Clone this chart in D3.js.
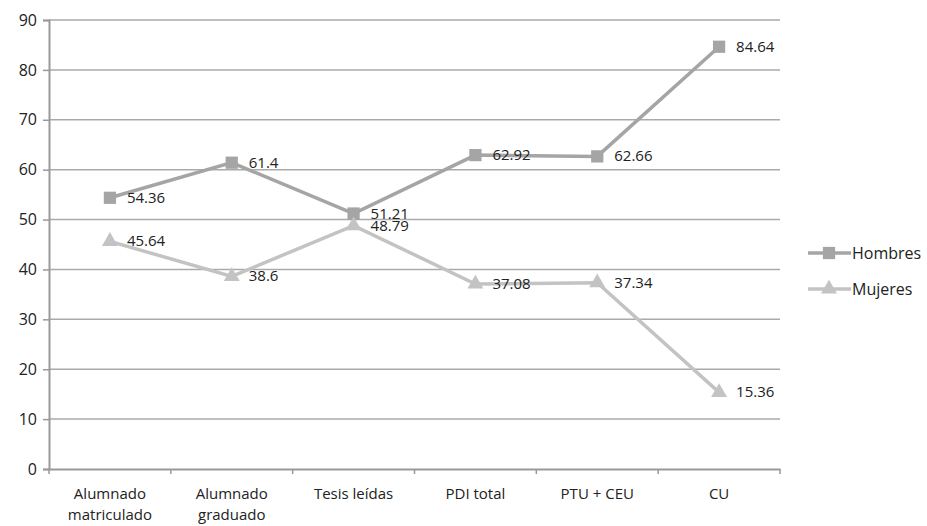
<!DOCTYPE html>
<html>
<head>
<meta charset="utf-8">
<script src="https://cdn.jsdelivr.net/npm/d3@7"></script>
<style>
  body { margin: 0; background: #fff; }
  text { font-family: "Open Sans", sans-serif; fill: #222; }
</style>
</head>
<body>
<svg id="chart" width="927" height="526"></svg>
<script>
// chart data
const categories = [["Alumnado", "matriculado"], ["Alumnado", "graduado"], ["Tesis leídas"],
                    ["PDI total"], ["PTU + CEU"], ["CU"]];
const hombres = [54.36, 61.4, 51.21, 62.92, 62.66, 84.64];
const mujeres = [45.64, 38.6, 48.79, 37.08, 37.34, 15.36];
const seriesNames = ["Hombres", "Mujeres"];
const yTicks = [0, 10, 20, 30, 40, 50, 60, 70, 80, 90];

const margin = {left: 49, right: 147, top: 20, bottom: 57};
const W = 927, H = 526;
const svg = d3.select("#chart");

const x = d3.scaleBand()
    .domain(d3.range(categories.length))
    .range([margin.left, W - margin.right]);
const y = d3.scaleLinear().domain([0, 90]).range([H - margin.bottom, margin.top]);

// horizontal grid
svg.append("g").selectAll("line")
    .data(yTicks.filter(d => d > 0))
    .enter().append("line")
    .attr("x1", margin.left).attr("x2", W - margin.right)
    .attr("y1", d => y(d)).attr("y2", d => y(d))
    .attr("stroke", "#aaa").attr("stroke-width", 1.5);

// y axis
let yAxis = svg.append("g")
    .attr("transform", `translate(${margin.left},0)`)
    .call(d3.axisLeft(y).tickValues(yTicks).tickSize(6).tickPadding(6));
yAxis.select(".domain").attr("stroke", "#999").attr("stroke-width", 2);
yAxis.selectAll(".tick line").attr("stroke", "#999").attr("stroke-width", 1.5);
yAxis.selectAll(".tick text").style("font-size", "16px").attr("fill", "#222");

// x axis
let xAxis = svg.append("g")
    .attr("transform", `translate(0,${y(0)})`)
    .call(d3.axisBottom(x).tickSize(0).tickFormat(""));
xAxis.select(".domain").attr("stroke", "#999").attr("stroke-width", 2);

// category boundary ticks
svg.append("g").selectAll("line")
    .data(d3.range(categories.length + 1))
    .enter().append("line")
    .attr("x1", i => margin.left + i * x.step())
    .attr("x2", i => margin.left + i * x.step())
    .attr("y1", y(0)).attr("y2", y(0) + 5)
    .attr("stroke", "#999").attr("stroke-width", 1.5);

// category labels
let cl = svg.append("g").selectAll("text")
    .data(categories)
    .enter().append("text")
    .attr("text-anchor", "middle")
    .style("font-size", "15px");
cl.each(function(lines, i) {
    d3.select(this).selectAll("tspan")
        .data(lines).enter().append("tspan")
        .attr("x", x(i) + x.bandwidth() / 2)
        .attr("y", (d, j) => 499 + j * 21)
        .text(d => d);
});

const cx = i => x(i) + x.bandwidth() / 2;
const line = d3.line().x((d, i) => cx(i)).y(d => y(d));

const series = [
    {name: seriesNames[0], values: hombres, color: "#a5a5a5", symbol: d3.symbolSquare, size: 150},
    {name: seriesNames[1], values: mujeres, color: "#c3c3c3", symbol: d3.symbolTriangle, size: 110}
];

series.forEach(s => {
    svg.append("path")
        .datum(s.values)
        .attr("d", line)
        .attr("fill", "none")
        .attr("stroke", s.color)
        .attr("stroke-width", 3.5);

    svg.append("g").selectAll("path")
        .data(s.values)
        .enter().append("path")
        .attr("transform", (d, i) => `translate(${cx(i)},${y(d)})`)
        .attr("d", d3.symbol().type(s.symbol).size(s.size))
        .attr("fill", s.color);

    svg.append("g").selectAll("text")
        .data(s.values)
        .enter().append("text")
        .attr("x", (d, i) => cx(i) + 17)
        .attr("y", d => y(d) + 5)
        .style("font-size", "15px")
        .text(d => d);
});

// legend
const legend = svg.append("g");
series.forEach((s, k) => {
    const ly = 253 + k * 36;
    legend.append("line")
        .attr("x1", 808).attr("x2", 851)
        .attr("y1", ly).attr("y2", ly)
        .attr("stroke", s.color).attr("stroke-width", 3.5);
    legend.append("path")
        .attr("transform", `translate(829,${ly})`)
        .attr("d", d3.symbol().type(s.symbol).size(s.size))
        .attr("fill", s.color);
    legend.append("text")
        .attr("x", 852).attr("y", ly + 6)
        .style("font-size", "16px")
        .text(s.name);
});
</script>
</body>
</html>
